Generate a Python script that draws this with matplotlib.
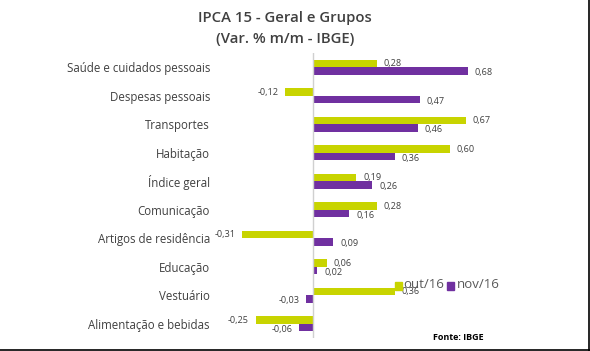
import matplotlib
matplotlib.use("Agg")
import matplotlib.pyplot as plt
from matplotlib.lines import Line2D
from matplotlib.patches import Rectangle
import numpy as np

categories = ["Saúde e cuidados pessoais", "Despesas pessoais", "Transportes", "Habitação",
              "Índice geral", "Comunicação", "Artigos de residência", "Educação",
              "Vestuário", "Alimentação e bebidas"]
out16 = [0.28, -0.12, 0.67, 0.60, 0.19, 0.28, -0.31, 0.06, 0.36, -0.25]
nov16 = [0.68, 0.47, 0.46, 0.36, 0.26, 0.16, 0.09, 0.02, -0.03, -0.06]
series_names = ["out/16", "nov/16"]

YEL = "#C8D400"
PUR = "#7030A0"
GRAY = "#404040"

plt.rcParams['font.family'] = ['Open Sans', 'DejaVu Sans']

W, H = 590, 351
fig = plt.figure(figsize=(W/100, H/100), dpi=100)

# axes placement in pixels
x0_px, x1_px = 233, 541
ytop_px, ybot_px = 53, 338
ax = fig.add_axes([x0_px/W, 1 - ybot_px/H, (x1_px - x0_px)/W, (ybot_px - ytop_px)/H])

n = len(categories)
ypos = np.arange(n)
bh = 0.27
ax.barh(ypos - bh/2, out16, height=bh, color=YEL, label=series_names[0])
ax.barh(ypos + bh/2, nov16, height=bh, color=PUR, label=series_names[1])
ax.set_ylim(n - 0.5, -0.5)
ax.set_xlim(-0.35, 1.0)

for s in ax.spines.values():
    s.set_visible(False)
ax.axvline(0, color="#D0D0D0", lw=1)
ax.set_xticks([])
ax.set_yticks(ypos)
ax.set_yticklabels(categories, fontsize=8.3, color=GRAY)
ax.tick_params(axis='y', length=0, pad=(x0_px - 210) * 0.72)

def fmt(v):
    return f"{v:.2f}".replace(".", ",")

off = 0.03
for i, (a, b) in enumerate(zip(out16, nov16)):
    for v, y in ((a, i - bh/2 + 0.02), (b, i + bh/2 + 0.05)):
        if v >= 0:
            ax.text(v + off, y, fmt(v), ha='left', va='center', fontsize=6.6, color=GRAY)
        else:
            ax.text(v - off, y, fmt(v), ha='right', va='center', fontsize=6.6, color=GRAY)

fig.text(285/W, 1 - 18/H, "IPCA 15 - Geral e Grupos", ha='center', va='center',
         fontsize=10.7, color=GRAY, fontweight='semibold')
fig.text(285/W, 1 - 39/H, "(Var. % m/m - IBGE)", ha='center', va='center',
         fontsize=10.7, color=GRAY, fontweight='semibold')

# legend
fig.patches.append(Rectangle((395/W, 1 - 290/H), 7/W, 8/H, transform=fig.transFigure,
                             color=YEL, figure=fig))
fig.text(403/W, 1 - 285/H, series_names[0], ha='left', va='center', fontsize=9.5, color="#595959")
fig.patches.append(Rectangle((447/W, 1 - 290/H), 7/W, 8/H, transform=fig.transFigure,
                             color=PUR, figure=fig))
fig.text(457/W, 1 - 285/H, series_names[1], ha='left', va='center', fontsize=9.5, color="#595959")

fig.text(458/W, 1 - 337/H, "Fonte: IBGE", ha='center', va='center', fontsize=6.5,
         fontweight='bold', color="black")

# border lines (right and bottom)
fig.lines.append(Line2D([1 - 1.5/W, 1 - 1.5/W], [0, 1], transform=fig.transFigure, color='black', lw=1.2))
fig.lines.append(Line2D([0, 1], [1.5/H, 1.5/H], transform=fig.transFigure, color='black', lw=1.2))

fig.savefig("out.png", dpi=100)
